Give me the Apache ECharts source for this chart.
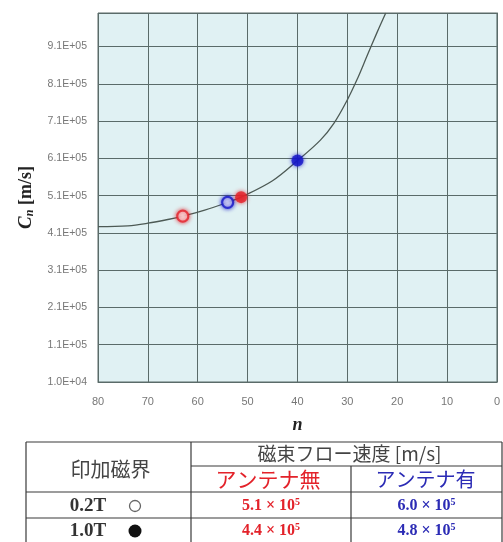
<!DOCTYPE html>
<html>
<head>
<meta charset="utf-8">
<script src="https://cdn.jsdelivr.net/npm/echarts@6/dist/echarts.min.js"></script>
<style>
  html, body { margin: 0; padding: 0; background: #ffffff; }
  #chart { width: 503px; height: 542px; }
</style>
</head>
<body>
<div id="chart"></div>
<script>
// Theoretical flux-flow velocity curve Cn versus n
const curveN  = [80, 74, 70, 66, 63, 58.6, 54, 51.3, 45, 40, 35.4, 32.7, 30, 28.1, 26.1, 24.1, 22.3];
const curveCn = [4.27e5, 4.29e5, 4.36e5, 4.46e5, 4.55e5, 4.71e5, 4.92e5, 5.06e5, 5.5e5, 6.04e5, 6.59e5, 7.04e5, 7.67e5, 8.2e5, 8.83e5, 9.46e5, 1.0e6];

// Measured points: [n, Cn]
const noAntennaOpen   = [63, 4.55e5];   // red, open
const withAntennaOpen = [54, 4.92e5];   // blue, open
const noAntennaFilled = [51.3, 5.06e5]; // red, filled
const withAntennaFill = [40, 6.04e5];   // blue, filled

// Axis ranges
const xMin = 0, xMax = 80, xStep = 10;
const yMin = 1e4, yMax = 1e6, yStep = 1e5;

// Table contents
const fieldLabels   = ['0.2T', '1.0T'];
const noAntennaVals = ['5.1', '4.4'];
const antennaVals   = ['6.0', '4.8'];
const valueExp      = '5';

const RED = '#e3222a';
const BLUE = '#1515c8';
const TBLUE = '#2b2bb5';
const GRID = '#5a6b69';

function sciLabel(v) {
  if (v >= yMax - 1) return '';
  const parts = v.toExponential(1).split('e');
  const sign = parts[1][0];
  const digits = parts[1].slice(1).padStart(2, '0');
  return parts[0] + 'E' + sign + digits;
}

const chart = echarts.init(document.getElementById('chart'), null, { renderer: 'canvas' });

// Table graphics
const tx0 = 26, tx1 = 191, tx2 = 351, tx3 = 502;
const ty0 = 442, tyA = 466, ty1 = 492, ty2 = 518, ty3 = 546;
const rowY = [506, 531];
const lineStyle = { stroke: '#3a3a3a', lineWidth: 1.2 };
function hline(x1, x2, y) { return { type: 'line', shape: { x1: x1, y1: y, x2: x2, y2: y }, style: lineStyle }; }
function vline(x, y1, y2) { return { type: 'line', shape: { x1: x, y1: y1, x2: x, y2: y2 }, style: lineStyle }; }
function label(x, y, text, font, fill) {
  return { type: 'text', x: x, y: y, style: { text: text, font: font, fill: fill, align: 'center', verticalAlign: 'middle' } };
}
function valueText(x, y, mant, color) {
  return {
    type: 'text', x: x, y: y,
    style: {
      text: '{m|' + mant + ' × 10}{e|' + valueExp + '}',
      align: 'center', verticalAlign: 'middle',
      rich: {
        m: { fontFamily: 'Liberation Serif', fontWeight: 'bold', fontSize: 16, fill: color, color: color },
        e: { fontFamily: 'Liberation Serif', fontWeight: 'bold', fontSize: 10, fill: color, color: color, padding: [0, 0, 8, 0] }
      }
    }
  };
}

const tableGraphics = [
  hline(tx0, tx3, ty0), hline(tx1, tx3, tyA), hline(tx0, tx3, ty1), hline(tx0, tx3, ty2),
  vline(tx0, ty0, ty3), vline(tx1, ty0, ty3), vline(tx2, tyA, ty3), vline(tx3, ty0, ty3),
  label((tx0 + tx1) / 2 + 2, 469, '印加磁界', '20px "Noto Sans CJK JP"', '#444'),
  label((tx1 + tx3) / 2 + 3, 454, '磁束フロー速度 [m/s]', '19px "Noto Sans CJK JP"', '#444'),
  label((tx1 + tx2) / 2 - 3, 479, 'アンテナ無', '21px "Noto Sans CJK JP"', RED),
  label((tx2 + tx3) / 2 - 1, 479, 'アンテナ有', '20px "Noto Sans CJK JP"', TBLUE)
];
fieldLabels.forEach(function (f, i) {
  tableGraphics.push(label(88, rowY[i], f, 'bold 19px "Liberation Serif"', '#333'));
  tableGraphics.push(valueText((tx1 + tx2) / 2, rowY[i], noAntennaVals[i], RED));
  tableGraphics.push(valueText((tx2 + tx3) / 2, rowY[i], antennaVals[i], TBLUE));
});
tableGraphics.push({ type: 'circle', shape: { cx: 135, cy: rowY[0], r: 5.5 }, style: { fill: '#fff', stroke: '#666', lineWidth: 1.3 } });
tableGraphics.push({ type: 'circle', shape: { cx: 135, cy: rowY[1], r: 6.5 }, style: { fill: '#111' } });

function pointSeries(name, pt, color, filled) {
  return {
    name: name,
    type: 'scatter',
    data: [pt],
    symbol: 'circle',
    symbolSize: filled ? 12 : 11,
    z: 5,
    itemStyle: filled
      ? { color: color, shadowBlur: 4, shadowColor: color }
      : { color: '#ffffff', borderColor: color, borderWidth: 2.2, shadowBlur: 4, shadowColor: color }
  };
}

chart.setOption({
  animation: false,
  backgroundColor: '#ffffff',
  grid: {
    left: 98, right: 2, top: 13, bottom: 160,
    show: true, backgroundColor: '#e0f1f3', borderColor: GRID, borderWidth: 1
  },
  xAxis: {
    type: 'value', inverse: true,
    min: xMin, max: xMax, interval: xStep,
    name: 'n', nameLocation: 'middle', nameGap: 34,
    nameTextStyle: { fontFamily: 'Liberation Serif', fontStyle: 'italic', fontWeight: 'bold', fontSize: 18, color: '#222' },
    axisLine: { show: true, lineStyle: { color: GRID } },
    axisTick: { show: false },
    axisLabel: { color: '#777', fontSize: 11, margin: 14, fontFamily: 'Liberation Sans' },
    splitLine: { show: true, lineStyle: { color: GRID, width: 1 } }
  },
  yAxis: {
    type: 'value',
    min: yMin, max: yMax, interval: yStep,
    name: '{c|C}{s|n}{u| [m/s]}', nameLocation: 'middle', nameGap: 62, nameRotate: 90,
    nameTextStyle: {
      rich: {
        c: { fontFamily: 'Liberation Serif', fontStyle: 'italic', fontWeight: 'bold', fontSize: 19, color: '#222' },
        s: { fontFamily: 'Liberation Serif', fontStyle: 'italic', fontWeight: 'bold', fontSize: 12, color: '#222', padding: [8, 0, 0, 0] },
        u: { fontFamily: 'Liberation Serif', fontWeight: 'bold', fontSize: 18, color: '#222' }
      }
    },
    axisLine: { show: true, lineStyle: { color: GRID } },
    axisTick: { show: false },
    axisLabel: { color: '#777', fontSize: 10.5, margin: 11, fontFamily: 'Liberation Sans', formatter: sciLabel },
    splitLine: { show: true, lineStyle: { color: GRID, width: 1 } }
  },
  series: [
    {
      name: 'Cn', type: 'line',
      data: curveN.map(function (n, i) { return [n, curveCn[i]]; }),
      smooth: 0.35, showSymbol: false, clip: true,
      lineStyle: { color: '#4d5a55', width: 1.3 }, z: 3
    },
    pointSeries('0.2T アンテナ無', noAntennaOpen, RED, false),
    pointSeries('0.2T アンテナ有', withAntennaOpen, BLUE, false),
    pointSeries('1.0T アンテナ無', noAntennaFilled, RED, true),
    pointSeries('1.0T アンテナ有', withAntennaFill, BLUE, true)
  ],
  graphic: tableGraphics
});
</script>
</body>
</html>
